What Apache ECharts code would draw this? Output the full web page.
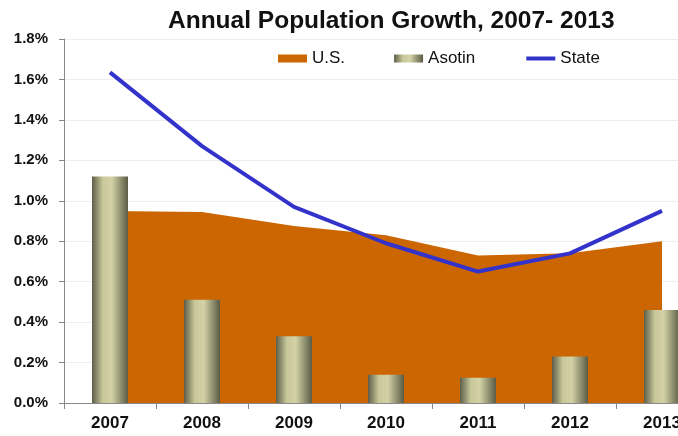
<!DOCTYPE html>
<html><head><meta charset="utf-8">
<script src="https://cdn.jsdelivr.net/npm/echarts@6/dist/echarts.min.js"></script>
<style>html,body{margin:0;padding:0;background:#fff}#c{width:678px;height:436px}</style>
</head><body><div id="c"></div>
<script>
const categories = ['2007','2008','2009','2010','2011','2012','2013'];
const usValues = [0.95, 0.945, 0.875, 0.83, 0.73, 0.74, 0.80];
const asotinValues = [1.12, 0.51, 0.33, 0.14, 0.125, 0.23, 0.46];
const stateValues = [1.635, 1.27, 0.97, 0.79, 0.65, 0.74, 0.95];

const chart = echarts.init(document.getElementById('c'));
const barGrad = new echarts.graphic.LinearGradient(0,0,1,0,[
  {offset:0,color:'#5d5e48'},{offset:0.3,color:'#c9c89a'},{offset:0.55,color:'#d3d2a6'},{offset:1,color:'#5a5b45'}
]);
chart.setOption({
  animation:false,
  textStyle:{fontFamily:'Liberation Sans, Arial, sans-serif'},
  title:{text:'Annual Population Growth, 2007- 2013',left:163,top:4,
    textStyle:{fontSize:24.5,fontWeight:'bold',color:'#111'}},
  legend:{left:273,top:45,itemWidth:29,itemHeight:8,itemGap:49,
    textStyle:{fontSize:17,color:'#111'},
    data:[{name:'U.S.',icon:'rect'},{name:'Asotin',icon:'rect'},
      {name:'State',itemStyle:{opacity:0},lineStyle:{width:4}}]},
  grid:{left:64,top:39,right:-30,bottom:33,outerBoundsMode:'none'},
  xAxis:{type:'category',data:categories,boundaryGap:true,
    axisLine:{lineStyle:{color:'#888',width:1}},
    axisTick:{show:true,length:6,lineStyle:{color:'#888'}},
    axisLabel:{fontSize:17,fontWeight:'bold',color:'#111',margin:12}},
  yAxis:{type:'value',min:0,max:1.8,interval:0.2,
    axisLine:{show:true,lineStyle:{color:'#888'}},
    axisTick:{show:true,length:5,lineStyle:{color:'#888'}},
    splitLine:{lineStyle:{color:'#eeeeee'}},
    axisLabel:{fontSize:15,fontWeight:'bold',color:'#111',margin:16,
      formatter:v=>v.toFixed(1)+'%'}},
  series:[
    {name:'U.S.',type:'line',data:usValues,symbol:'none',z:1,
      lineStyle:{width:0,color:'#cc6600'},itemStyle:{color:'#cc6600'},
      areaStyle:{color:'#cc6600',opacity:1}},
    {name:'Asotin',type:'bar',data:asotinValues,barWidth:36,z:2,
      itemStyle:{color:barGrad}},
    {name:'State',type:'line',data:stateValues,symbol:'none',z:3,
      lineStyle:{width:4,color:'#3333cc'},itemStyle:{color:'#3333cc'}}
  ]
});
</script></body></html>
